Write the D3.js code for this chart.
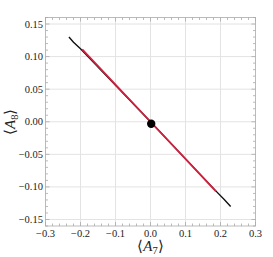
<!DOCTYPE html>
<html>
<head>
<meta charset="utf-8">
<script src="https://cdn.jsdelivr.net/npm/d3@7"></script>
<style>
  body { margin: 0; background: #fff; }
</style>
</head>
<body>
<svg id="chart" width="273" height="257"></svg>
<script>
// data
const xTicks = [-0.3, -0.2, -0.1, 0.0, 0.1, 0.2, 0.3];
const yTicks = [-0.15, -0.10, -0.05, 0.00, 0.05, 0.10, 0.15];

// black scatter (full run of points)
const blackX = [-0.233, -0.22, -0.2, -0.1, 0.0, 0.1, 0.19, 0.21, 0.229];
const blackY = [0.130, 0.122, 0.112, 0.056, 0.0, -0.057, -0.108, -0.119, -0.130];

// red segment on top
const redX = [-0.195, -0.1, 0.0, 0.1, 0.187];
const redY = [0.111, 0.057, 0.0, -0.057, -0.107];

// fixed point
const dotX = [0.002];
const dotY = [-0.003];

const serif = "'Liberation Serif', 'Times New Roman', serif";
const svg = d3.select('#chart').style('font-family', serif);
const m = { left: 45.5, right: 255.5, top: 17.5, bottom: 226 };

const x = d3.scaleLinear().domain([-0.3, 0.3]).range([m.left, m.right]);
const y = d3.scaleLinear().domain([-0.16, 0.16]).range([m.bottom, m.top]);

// grid
svg.append('g')
  .selectAll('line')
  .data(xTicks.slice(1, -1))
  .enter()
  .append('line')
  .attr('x1', d => x(d)).attr('x2', d => x(d))
  .attr('y1', m.top).attr('y2', m.bottom)
  .attr('stroke', '#e3e3e3').attr('stroke-width', 1);

svg.append('g')
  .selectAll('line')
  .data(yTicks)
  .enter()
  .append('line')
  .attr('y1', d => y(d)).attr('y2', d => y(d))
  .attr('x1', m.left).attr('x2', m.right)
  .attr('stroke', '#e3e3e3').attr('stroke-width', 1);

// ticks on all four sides, pointing inward
const xMinor = d3.range(-0.3, 0.3001, 0.02);
const yMinor = d3.range(-0.16, 0.1601, 0.01);

const ticks = svg.append('g').attr('stroke', '#aaa').attr('stroke-width', 0.8);
xMinor.forEach(v => {
  const major = xTicks.some(t => Math.abs(t - v) < 1e-6);
  const len = major ? 4 : 2.5;
  ticks.append('line').attr('x1', x(v)).attr('x2', x(v)).attr('y1', m.bottom).attr('y2', m.bottom - len);
  ticks.append('line').attr('x1', x(v)).attr('x2', x(v)).attr('y1', m.top).attr('y2', m.top + len);
});
yMinor.forEach(v => {
  const major = yTicks.some(t => Math.abs(t - v) < 1e-6);
  const len = major ? 4 : 2.5;
  ticks.append('line').attr('y1', y(v)).attr('y2', y(v)).attr('x1', m.left).attr('x2', m.left + len);
  ticks.append('line').attr('y1', y(v)).attr('y2', y(v)).attr('x1', m.right).attr('x2', m.right - len);
});

// frame
svg.append('rect')
  .attr('x', m.left).attr('y', m.top)
  .attr('width', m.right - m.left).attr('height', m.bottom - m.top)
  .attr('fill', 'none').attr('stroke', '#aaa').attr('stroke-width', 0.8);

// tick labels
const fmt = v => (v < 0 ? '\u2212' : '') + Math.abs(v).toFixed(1);
svg.append('g')
  .selectAll('text')
  .data(xTicks)
  .enter()
  .append('text')
  .attr('x', d => x(d)).attr('y', 236.5)
  .attr('text-anchor', 'middle')
  .attr('fill', '#222')
  .style('font-family', serif)
  .style('font-size', '10.5px')
  .text(fmt);

svg.append('g')
  .selectAll('text')
  .data(yTicks)
  .enter()
  .append('text')
  .attr('x', 43).attr('y', d => y(d) + 3.5)
  .attr('text-anchor', 'end')
  .attr('fill', '#222')
  .style('font-family', serif)
  .style('font-size', '10.5px')
  .text(d => (d < 0 ? '\u2212' : '') + Math.abs(d).toFixed(2));

// data
const toPts = (xs, ys) => xs.map((v, i) => [x(v), y(ys[i])]);
const line = d3.line();

svg.append('path')
  .attr('d', line(toPts(blackX, blackY)))
  .attr('fill', 'none').attr('stroke', '#111').attr('stroke-width', 1.4);

svg.append('path')
  .attr('d', line(toPts(redX, redY)))
  .attr('fill', 'none').attr('stroke', '#d0213f').attr('stroke-width', 1.8);

svg.selectAll('.dot')
  .data(dotX)
  .enter()
  .append('circle')
  .attr('class', 'dot')
  .attr('cx', d => x(d)).attr('cy', (d, i) => y(dotY[i]))
  .attr('r', 4.2).attr('fill', '#000');

// axis labels
const xl = svg.append('text')
  .attr('x', x(0)).attr('y', 251)
  .attr('text-anchor', 'middle')
  .attr('fill', '#222')
  .style('font-family', serif)
  .style('font-size', '15px');
xl.append('tspan').text('\u27E8');
xl.append('tspan').style('font-style', 'italic').text('A');
xl.append('tspan').attr('dy', 3).style('font-size', '10.5px').text('7');
xl.append('tspan').attr('dy', -3).text('\u27E9');

const yl = svg.append('text')
  .attr('transform', `translate(15,${y(0)}) rotate(-90)`)
  .attr('text-anchor', 'middle')
  .attr('fill', '#222')
  .style('font-family', serif)
  .style('font-size', '15px');
yl.append('tspan').text('\u27E8');
yl.append('tspan').style('font-style', 'italic').text('A');
yl.append('tspan').attr('dy', 3).style('font-size', '10.5px').text('8');
yl.append('tspan').attr('dy', -3).text('\u27E9');
</script>
</body>
</html>
